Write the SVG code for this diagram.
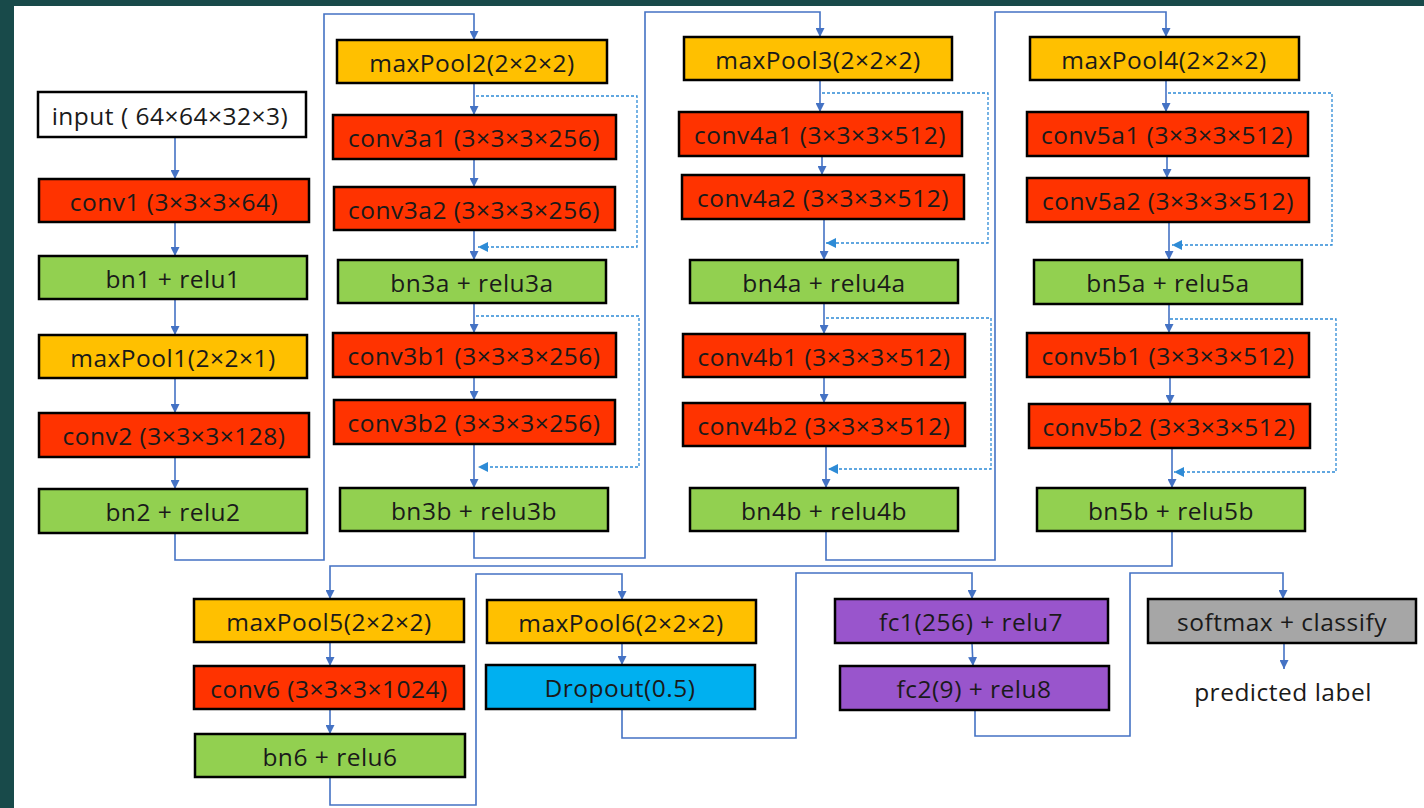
<svg xmlns="http://www.w3.org/2000/svg" width="1424" height="808" viewBox="0 0 1424 808">
<defs>
<marker id="ah" viewBox="0 0 10 10" refX="10" refY="5" markerWidth="9" markerHeight="9" markerUnits="userSpaceOnUse" orient="auto"><path d="M0,0 L10,5 L0,10 z" fill="#4472C4"/></marker>
<marker id="ahd" viewBox="0 0 10 10" refX="10" refY="5" markerWidth="10" markerHeight="10" markerUnits="userSpaceOnUse" orient="auto"><path d="M0,0 L10,5 L0,10 z" fill="#2E8BD6"/></marker>
<style>
.b{stroke:#000;stroke-width:2.5}
.w{fill:#fff}.r{fill:#FF3300}.g{fill:#92D050}.o{fill:#FFC000}.c{fill:#00B0F0}.p{fill:#9955CC}.gr{fill:#A6A6A6}
text{font-family:"Open Sans","Noto Sans",sans-serif;font-size:24.5px;letter-spacing:0.5px;fill:#1a1a1a;text-anchor:middle;dominant-baseline:central}
.l{fill:none;stroke:#4472C4;stroke-width:1.6}
.d{fill:none;stroke:#2E8BD6;stroke-width:1.3;stroke-dasharray:3 2}
</style>
</defs>
<rect x="0" y="0" width="1424" height="808" fill="#184A4A"/>
<rect x="14" y="6" width="1410" height="802" fill="#fff"/>

<g id="connectors">
<line class="l" x1="175" y1="137" x2="175" y2="179" marker-end="url(#ah)"/>
<line class="l" x1="175" y1="222" x2="175" y2="256" marker-end="url(#ah)"/>
<line class="l" x1="175" y1="299" x2="175" y2="335" marker-end="url(#ah)"/>
<line class="l" x1="175" y1="378" x2="175" y2="413" marker-end="url(#ah)"/>
<line class="l" x1="175" y1="457" x2="175" y2="489" marker-end="url(#ah)"/>
<polyline class="l" points="175,533 175,560 324,560 324,14 474,14 474,40" marker-end="url(#ah)"/>

<line class="l" x1="474" y1="83" x2="474" y2="115" marker-end="url(#ah)"/>
<line class="l" x1="474" y1="159" x2="474" y2="187" marker-end="url(#ah)"/>
<line class="l" x1="474" y1="230" x2="474" y2="260" marker-end="url(#ah)"/>
<line class="l" x1="474" y1="303" x2="474" y2="333" marker-end="url(#ah)"/>
<line class="l" x1="474" y1="377" x2="474" y2="400" marker-end="url(#ah)"/>
<line class="l" x1="474" y1="444" x2="474" y2="488" marker-end="url(#ah)"/>
<polyline class="d" points="476,96 637,96 637,247 478,247" marker-end="url(#ahd)"/>
<polyline class="d" points="476,316 639,316 639,467 478,467" marker-end="url(#ahd)"/>
<polyline class="l" points="474,531 474,558 645,558 645,12 820,12 820,37" marker-end="url(#ah)"/>

<line class="l" x1="820" y1="80" x2="820" y2="112" marker-end="url(#ah)"/>
<line class="l" x1="822" y1="156" x2="822" y2="175" marker-end="url(#ah)"/>
<line class="l" x1="824" y1="219" x2="824" y2="260" marker-end="url(#ah)"/>
<line class="l" x1="824" y1="303" x2="824" y2="334" marker-end="url(#ah)"/>
<line class="l" x1="824" y1="377" x2="824" y2="403" marker-end="url(#ah)"/>
<line class="l" x1="826" y1="446" x2="826" y2="488" marker-end="url(#ah)"/>
<polyline class="d" points="822,93 988,93 988,243 826,243" marker-end="url(#ahd)"/>
<polyline class="d" points="826,318 991,318 991,469 828,469" marker-end="url(#ahd)"/>
<polyline class="l" points="826,531 826,560 995,560 995,12 1166,12 1166,37" marker-end="url(#ah)"/>

<line class="l" x1="1166" y1="80" x2="1166" y2="112" marker-end="url(#ah)"/>
<line class="l" x1="1167" y1="156" x2="1167" y2="178" marker-end="url(#ah)"/>
<line class="l" x1="1169" y1="222" x2="1169" y2="260" marker-end="url(#ah)"/>
<line class="l" x1="1169" y1="304" x2="1169" y2="333" marker-end="url(#ah)"/>
<line class="l" x1="1170" y1="377" x2="1170" y2="404" marker-end="url(#ah)"/>
<line class="l" x1="1172" y1="448" x2="1172" y2="488" marker-end="url(#ah)"/>
<polyline class="d" points="1168,93 1332,93 1332,245 1172,245" marker-end="url(#ahd)"/>
<polyline class="d" points="1170,319 1336,319 1336,472 1174,472" marker-end="url(#ahd)"/>
<polyline class="l" points="1172,531 1172,566 330,566 330,599" marker-end="url(#ah)"/>

<line class="l" x1="330" y1="642" x2="330" y2="666" marker-end="url(#ah)"/>
<line class="l" x1="330" y1="709" x2="330" y2="734" marker-end="url(#ah)"/>
<polyline class="l" points="330,777 330,805 476,805 476,574 622,574 622,600" marker-end="url(#ah)"/>
<line class="l" x1="622" y1="643" x2="622" y2="665" marker-end="url(#ah)"/>
<polyline class="l" points="622,709 622,738 796,738 796,573 972,573 972,599" marker-end="url(#ah)"/>
<line class="l" x1="972" y1="643" x2="973" y2="666" marker-end="url(#ah)"/>
<polyline class="l" points="975,710 975,736 1130,736 1130,573 1283,573 1283,599" marker-end="url(#ah)"/>
<line class="l" x1="1284" y1="643" x2="1284" y2="669" marker-end="url(#ah)"/>
</g>

<g id="input"><rect class="b w" x="38" y="92" width="268" height="45"/><text x="170" y="115">input ( 64×64×32×3)</text></g>
<g id="conv1"><rect class="b r" x="39" y="179" width="270" height="43"/><text x="174" y="201">conv1 (3×3×3×64)</text></g>
<g id="bn1"><rect class="b g" x="39" y="256" width="268" height="43"/><text x="173" y="278">bn1 + relu1</text></g>
<g id="maxPool1"><rect class="b o" x="39" y="335" width="268" height="43"/><text x="173" y="357">maxPool1(2×2×1)</text></g>
<g id="conv2"><rect class="b r" x="39" y="413" width="270" height="44"/><text x="174" y="435">conv2 (3×3×3×128)</text></g>
<g id="bn2"><rect class="b g" x="39" y="489" width="268" height="44"/><text x="173" y="511">bn2 + relu2</text></g>

<g id="maxPool2"><rect class="b o" x="337" y="40" width="270" height="43"/><text x="472" y="62">maxPool2(2×2×2)</text></g>
<g id="conv3a1"><rect class="b r" x="333" y="115" width="283" height="44"/><text x="474" y="137">conv3a1 (3×3×3×256)</text></g>
<g id="conv3a2"><rect class="b r" x="334" y="187" width="281" height="43"/><text x="474" y="209">conv3a2 (3×3×3×256)</text></g>
<g id="bn3a"><rect class="b g" x="338" y="260" width="268" height="43"/><text x="472" y="282">bn3a + relu3a</text></g>
<g id="conv3b1"><rect class="b r" x="333" y="333" width="283" height="44"/><text x="474" y="355">conv3b1 (3×3×3×256)</text></g>
<g id="conv3b2"><rect class="b r" x="334" y="400" width="281" height="44"/><text x="474" y="422">conv3b2 (3×3×3×256)</text></g>
<g id="bn3b"><rect class="b g" x="340" y="488" width="268" height="43"/><text x="474" y="510">bn3b + relu3b</text></g>

<g id="maxPool3"><rect class="b o" x="684" y="37" width="268" height="43"/><text x="818" y="59">maxPool3(2×2×2)</text></g>
<g id="conv4a1"><rect class="b r" x="679" y="112" width="283" height="44"/><text x="820" y="134">conv4a1 (3×3×3×512)</text></g>
<g id="conv4a2"><rect class="b r" x="682" y="175" width="282" height="44"/><text x="823" y="197">conv4a2 (3×3×3×512)</text></g>
<g id="bn4a"><rect class="b g" x="690" y="260" width="268" height="43"/><text x="824" y="282">bn4a + relu4a</text></g>
<g id="conv4b1"><rect class="b r" x="683" y="334" width="282" height="43"/><text x="824" y="356">conv4b1 (3×3×3×512)</text></g>
<g id="conv4b2"><rect class="b r" x="683" y="403" width="282" height="43"/><text x="824" y="425">conv4b2 (3×3×3×512)</text></g>
<g id="bn4b"><rect class="b g" x="690" y="488" width="268" height="43"/><text x="824" y="510">bn4b + relu4b</text></g>

<g id="maxPool4"><rect class="b o" x="1030" y="37" width="269" height="43"/><text x="1164" y="59">maxPool4(2×2×2)</text></g>
<g id="conv5a1"><rect class="b r" x="1027" y="112" width="281" height="44"/><text x="1167" y="134">conv5a1 (3×3×3×512)</text></g>
<g id="conv5a2"><rect class="b r" x="1027" y="178" width="282" height="44"/><text x="1168" y="200">conv5a2 (3×3×3×512)</text></g>
<g id="bn5a"><rect class="b g" x="1034" y="260" width="268" height="44"/><text x="1168" y="282">bn5a + relu5a</text></g>
<g id="conv5b1"><rect class="b r" x="1027" y="333" width="282" height="44"/><text x="1168" y="355">conv5b1 (3×3×3×512)</text></g>
<g id="conv5b2"><rect class="b r" x="1029" y="404" width="281" height="44"/><text x="1169" y="426">conv5b2 (3×3×3×512)</text></g>
<g id="bn5b"><rect class="b g" x="1037" y="488" width="268" height="43"/><text x="1171" y="510">bn5b + relu5b</text></g>

<g id="maxPool5"><rect class="b o" x="194" y="599" width="270" height="43"/><text x="329" y="621">maxPool5(2×2×2)</text></g>
<g id="conv6"><rect class="b r" x="194" y="666" width="270" height="43"/><text x="329" y="688">conv6 (3×3×3×1024)</text></g>
<g id="bn6"><rect class="b g" x="195" y="734" width="270" height="43"/><text x="330" y="756">bn6 + relu6</text></g>

<g id="maxPool6"><rect class="b o" x="487" y="600" width="269" height="43"/><text x="621" y="622">maxPool6(2×2×2)</text></g>
<g id="dropout"><rect class="b c" x="486" y="665" width="269" height="44"/><text x="620" y="687">Dropout(0.5)</text></g>

<g id="fc1"><rect class="b p" x="835" y="599" width="273" height="44"/><text x="971" y="621">fc1(256) + relu7</text></g>
<g id="fc2"><rect class="b p" x="840" y="666" width="269" height="44"/><text x="974" y="688">fc2(9) + relu8</text></g>

<g id="softmax"><rect class="b gr" x="1148" y="599" width="268" height="44"/><text x="1282" y="621">softmax + classify</text></g>
<g id="predicted"><text x="1283" y="691">predicted label</text></g>
</svg>
